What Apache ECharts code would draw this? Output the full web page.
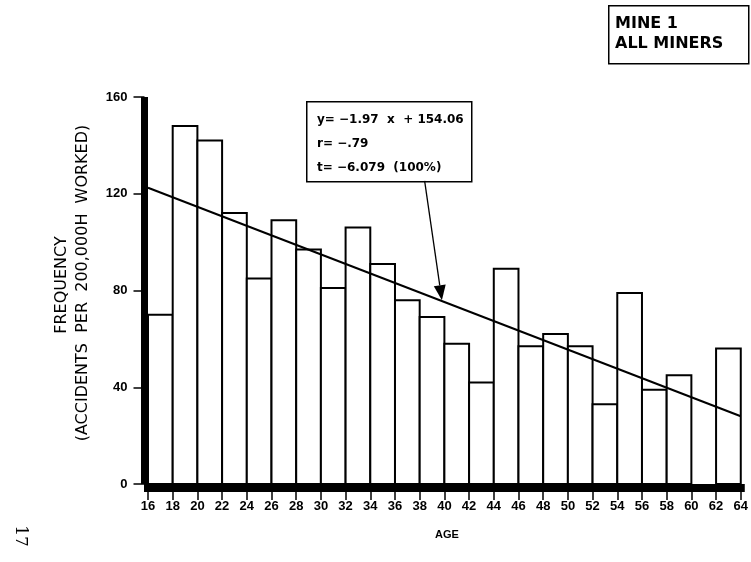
<!DOCTYPE html>
<html>
<head>
<meta charset="utf-8">
<script src="https://cdn.jsdelivr.net/npm/echarts@6/dist/echarts.min.js"></script>
<style>
html,body{margin:0;padding:0;background:#fff;}
#chart{width:751px;height:562px;}
</style>
</head>
<body>
<div id="chart"></div>
<script>
// ---- data ----
var ageStarts = [16,18,20,22,24,26,28,30,32,34,36,38,40,42,44,46,48,50,52,54,56,58,60,62];
var frequency = [70,148,142,112,85,109,97,81,106,91,76,69,58,42,89,57,62,57,33,79,39,45,null,56];
var binWidth = 2;
var xTicks = [16,64,2];          // min, max, interval
var yTicks = [0,160,40];         // min, max, interval
var trendAges = [16,64];
var trendValues = [122.5,28.0];  // y = -1.97 x + 154.06
var arrowFrom = [38.4,125.3];
var arrowTo = [39.8,76.0];
var statLines = ['y= \u22121.97  x  + 154.06','r= \u2212.79','t= \u22126.079  (100%)'];
var boxLines = ['MINE 1','ALL MINERS'];
var xTitle = 'AGE';
var yTitle1 = 'FREQUENCY';
var yTitle2 = '(ACCIDENTS  PER  200,000H  WORKED)';
var pageNo = '17';

var barData = ageStarts.map(function(a,i){ return [a, frequency[i]]; });
var trendData = trendAges.map(function(a,i){ return [a, trendValues[i]]; });

var chart = echarts.init(document.getElementById('chart'), null, {renderer:'canvas'});
var FONT = 'Liberation Sans, Arial, sans-serif';
var DJ = 'DejaVu Sans, sans-serif';

var staticGraphics = [
  {id:'sbox', type:'rect', left:306, top:101, shape:{width:165,height:80},
   style:{fill:'#fff',stroke:'#000',lineWidth:1.5}, z:10},
  {id:'s1', type:'text', left:317, top:114, z:11,
   style:{text:statLines[0], font:'bold 12px '+DJ, fill:'#000'}},
  {id:'s2', type:'text', left:317, top:138, z:11,
   style:{text:statLines[1], font:'bold 12px '+DJ, fill:'#000'}},
  {id:'s3', type:'text', left:317, top:162, z:11,
   style:{text:statLines[2], font:'bold 12px '+DJ, fill:'#000'}},
  {id:'mbox', type:'rect', left:608, top:5, shape:{width:140,height:58},
   style:{fill:'#fff',stroke:'#000',lineWidth:1.5}, z:10},
  {id:'m1', type:'text', left:615, top:16, z:11,
   style:{text:boxLines[0], font:'bold 16px '+DJ, fill:'#000'}},
  {id:'m2', type:'text', left:615, top:36, z:11,
   style:{text:boxLines[1], font:'bold 16px '+DJ, fill:'#000'}},
  {id:'xt', type:'text', x:447, y:535, z:11,
   style:{text:xTitle, font:'bold 11px '+FONT, fill:'#000', align:'center', verticalAlign:'middle'}},
  {id:'yt1', type:'text', x:62, y:285, rotation:Math.PI/2, z:11,
   style:{text:yTitle1, font:'16px '+DJ, fill:'#000', align:'center', verticalAlign:'middle'}},
  {id:'yt2', type:'text', x:83, y:283, rotation:Math.PI/2, z:11,
   style:{text:yTitle2, font:'16px '+DJ, fill:'#000', align:'center', verticalAlign:'middle'}},
  {id:'pg', type:'text', x:20, y:536, rotation:-Math.PI/2, z:11,
   style:{text:pageNo, font:'17px DejaVu Serif, serif', fill:'#000', align:'center', verticalAlign:'middle'}}
];

var option = {
  backgroundColor:'#ffffff',
  animation:false,
  grid:{left:148,right:9,top:97,bottom:78},
  xAxis:{
    type:'value', min:xTicks[0], max:xTicks[1], interval:xTicks[2],
    offset:4,
    axisLine:{show:true,onZero:false,lineStyle:{color:'#000',width:8,cap:'square'}},
    axisTick:{show:true,length:12,lineStyle:{color:'#000',width:1.5}},
    axisLabel:{color:'#000',fontFamily:FONT,fontWeight:'bold',fontSize:13,margin:12},
    splitLine:{show:false}
  },
  yAxis:{
    type:'value', min:yTicks[0], max:yTicks[1], interval:yTicks[2],
    offset:3.5,
    axisLine:{show:true,onZero:false,lineStyle:{color:'#000',width:7,cap:'butt'}},
    axisTick:{show:true,length:11,lineStyle:{color:'#000',width:1.5}},
    axisLabel:{color:'#000',fontFamily:FONT,fontWeight:'bold',fontSize:13,margin:17},
    splitLine:{show:false}
  },
  series:[
    {
      type:'custom',
      data:barData,
      renderItem:function(params, api){
        var v = api.value(1);
        if (v == null || isNaN(v)) return null;
        var a = api.value(0);
        var p0 = api.coord([a, v]);
        var p1 = api.coord([a + binWidth, 0]);
        return {
          type:'rect',
          shape:{x:p0[0], y:p0[1], width:p1[0]-p0[0], height:p1[1]-p0[1]},
          style:{fill:'#fff', stroke:'#000', lineWidth:2}
        };
      },
      encode:{x:0,y:1},
      z:2
    },
    {
      type:'line',
      data:trendData,
      symbol:'none',
      lineStyle:{color:'#000',width:2},
      z:3
    }
  ],
  graphic:staticGraphics
};
chart.setOption(option);

// arrow from the statistics box to the regression line, positioned via the axes
var pA = chart.convertToPixel({gridIndex:0}, arrowFrom);
var pB = chart.convertToPixel({gridIndex:0}, arrowTo);
var dx = pB[0]-pA[0], dy = pB[1]-pA[1];
var len = Math.sqrt(dx*dx+dy*dy);
var ux = dx/len, uy = dy/len;
var headL = 15, headW = 6;
var base = [pB[0]-ux*headL, pB[1]-uy*headL];
chart.setOption({
  graphic:[
    {id:'arrowLine', type:'line', z:12,
     shape:{x1:pA[0],y1:pA[1],x2:base[0],y2:base[1]},
     style:{stroke:'#000',lineWidth:1.3}},
    {id:'arrowHead', type:'polygon', z:12,
     shape:{points:[[pB[0],pB[1]],[base[0]-uy*headW, base[1]+ux*headW],[base[0]+uy*headW, base[1]-ux*headW]]},
     style:{fill:'#000'}}
  ]
});
</script>
</body>
</html>
